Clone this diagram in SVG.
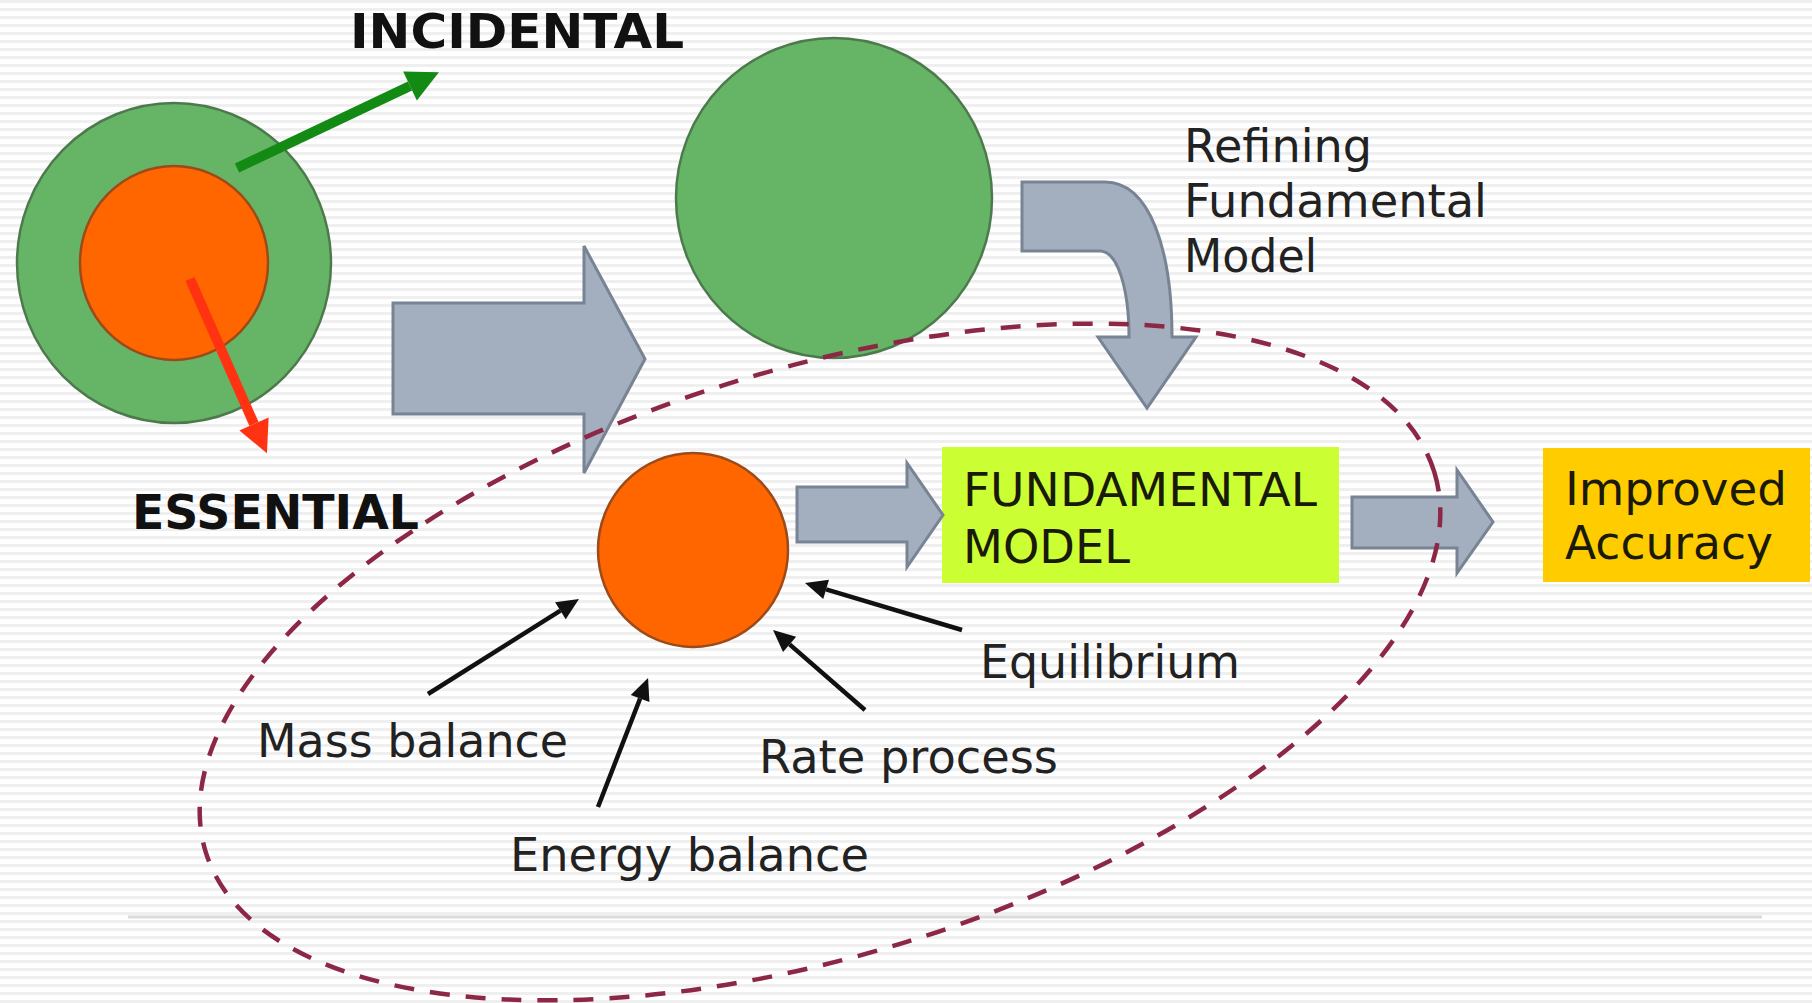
<svg xmlns="http://www.w3.org/2000/svg" width="1812" height="1003" viewBox="0 0 1812 1003">
<style>
.lbl{font-family:"DejaVu Sans","Liberation Sans",sans-serif;font-size:46px;fill:#222}
.bold{font-family:"DejaVu Sans","Liberation Sans",sans-serif;font-size:48px;font-weight:bold;fill:#111}
.box{font-family:"DejaVu Sans","Liberation Sans",sans-serif;font-size:46px;fill:#1a1a0a}
.green{fill:#66b566;stroke:#4d7a4d;stroke-width:2.5}
.orange{fill:#ff6600;stroke:#9c4a1a;stroke-width:2.5}
.block{fill:#a3aebf;stroke:#788394;stroke-width:3;stroke-linejoin:miter}
.blk{stroke:#111;stroke-width:4.5;fill:none}
</style>
<defs>
<pattern id="stripes" width="8" height="8" patternUnits="userSpaceOnUse">
<rect width="8" height="8" fill="#ffffff"/>
<rect y="0" width="8" height="3" fill="#efefef"/>
</pattern>
<marker id="ahGreen" markerWidth="32" markerHeight="32" refX="0" refY="16" orient="auto" markerUnits="userSpaceOnUse" overflow="visible">
<path d="M0,0 L32,16 L0,32 Z" fill="#138a13"/>
</marker>
<marker id="ahRed" markerWidth="32" markerHeight="32" refX="0" refY="16" orient="auto" markerUnits="userSpaceOnUse" overflow="visible">
<path d="M0,0 L32,16 L0,32 Z" fill="#ff3311"/>
</marker>
<marker id="ahBlack" markerWidth="22" markerHeight="20" refX="0" refY="10" orient="auto" markerUnits="userSpaceOnUse" overflow="visible">
<path d="M0,0 L22,10 L0,20 Z" fill="#111"/>
</marker>
</defs>
<rect width="1812" height="1003" fill="url(#stripes)"/>
<line x1="128" y1="917" x2="1762" y2="917" stroke="#dcdcdc" stroke-width="3"/>

<g id="node-incidental-essential">
<ellipse class="green" cx="174" cy="263" rx="157" ry="160"/>
<ellipse class="orange" cx="174" cy="263" rx="94" ry="97"/>
</g>
<g id="label-incidental"><text class="bold" x="350" y="48" textLength="334" lengthAdjust="spacingAndGlyphs">INCIDENTAL</text></g>
<g id="label-essential"><text class="bold" x="132" y="529" textLength="287" lengthAdjust="spacingAndGlyphs">ESSENTIAL</text></g>

<g id="node-big-green"><ellipse class="green" cx="834" cy="198" rx="158" ry="160"/></g>

<g id="label-refining">
<text class="lbl" x="1184" y="162" textLength="188" lengthAdjust="spacingAndGlyphs">Refining</text>
<text class="lbl" x="1184" y="217" textLength="303" lengthAdjust="spacingAndGlyphs">Fundamental</text>
<text class="lbl" x="1184" y="272" textLength="133" lengthAdjust="spacingAndGlyphs">Model</text>
</g>

<g id="node-essential-core"><ellipse class="orange" cx="693" cy="550" rx="95" ry="97"/></g>

<g id="node-fundamental-model">
<rect x="942" y="447" width="397" height="136" fill="#ccff33"/>
<text class="box" x="963" y="506" textLength="354" lengthAdjust="spacingAndGlyphs">FUNDAMENTAL</text>
<text class="box" x="963" y="563" textLength="167" lengthAdjust="spacingAndGlyphs">MODEL</text>
</g>

<g id="node-improved-accuracy">
<rect x="1543" y="448" width="267" height="134" fill="#ffcc00"/>
<text class="box" x="1565" y="505" textLength="222" lengthAdjust="spacingAndGlyphs">Improved</text>
<text class="box" x="1565" y="559" textLength="208" lengthAdjust="spacingAndGlyphs">Accuracy</text>
</g>

<g id="label-mass"><text class="lbl" x="257" y="757" textLength="311" lengthAdjust="spacingAndGlyphs">Mass balance</text></g>
<g id="label-energy"><text class="lbl" x="510" y="871" textLength="359" lengthAdjust="spacingAndGlyphs">Energy balance</text></g>
<g id="label-rate"><text class="lbl" x="759" y="773" textLength="299" lengthAdjust="spacingAndGlyphs">Rate process</text></g>
<g id="label-equilibrium"><text class="lbl" x="980" y="678" textLength="260" lengthAdjust="spacingAndGlyphs">Equilibrium</text></g>

<g id="connectors">
<line x1="237" y1="168" x2="410" y2="86" stroke="#138a13" stroke-width="10" marker-end="url(#ahGreen)"/>
<line x1="190" y1="279" x2="254" y2="424" stroke="#ff3311" stroke-width="10" marker-end="url(#ahRed)"/>
<path class="block" d="M393,303 H584 V246 L645,359 L584,473 V414 H393 Z"/>
<path class="block" d="M1022,182 L1105,182 C1150,182 1172,250 1172,337 L1196,337 L1147,408 L1098,337 L1129,337 C1129,290 1118,251 1100,251 L1022,251 Z"/>
<path class="block" d="M797,487 H907 V463 L943,515 L907,567 V542 H797 Z"/>
<path class="block" d="M1352,497 H1457 V470 L1493,522 L1457,573 V548 H1352 Z"/>
<line class="blk" x1="428" y1="694" x2="560.4" y2="610.7" marker-end="url(#ahBlack)"/>
<line class="blk" x1="598" y1="807" x2="640.1" y2="698.5" marker-end="url(#ahBlack)"/>
<line class="blk" x1="865" y1="710" x2="789.6" y2="644.4" marker-end="url(#ahBlack)"/>
<line class="blk" x1="962" y1="630" x2="826.1" y2="589.3" marker-end="url(#ahBlack)"/>
<ellipse cx="820" cy="662" rx="643" ry="293" transform="rotate(-17.2 820 662)" fill="none" stroke="#8c2846" stroke-width="4.5" stroke-dasharray="20 16"/>
</g>
</svg>
